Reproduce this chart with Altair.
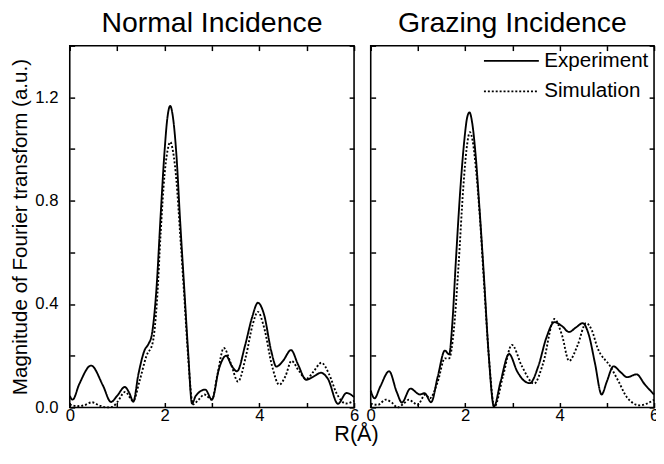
import altair as alt
import pandas as pd

FONT = "Liberation Sans, Arial, sans-serif"

panels = ["Normal Incidence", "Grazing Incidence"]
series = ["Experiment", "Simulation"]

# Normal incidence - experiment
ni_exp_r = [0.0, 0.06, 0.2, 0.45, 0.7, 0.87, 1.0, 1.16, 1.26, 1.34, 1.45, 1.58, 1.66, 1.73, 1.83, 1.92,
            2.0, 2.06, 2.12, 2.18, 2.25, 2.33, 2.42, 2.5, 2.58, 2.66, 2.86, 3.0, 3.15, 3.3, 3.42, 3.53,
            3.7, 3.85, 3.97, 4.1, 4.25, 4.36, 4.5, 4.67, 4.82, 4.99, 5.15, 5.3, 5.45, 5.66, 5.84, 6.0]
ni_exp_v = [0.045, 0.03, 0.09, 0.162, 0.085, 0.021, 0.045, 0.079, 0.055, 0.022, 0.13, 0.222, 0.245, 0.28, 0.46, 0.75,
            0.99, 1.12, 1.167, 1.12, 0.98, 0.72, 0.45, 0.21, 0.015, 0.045, 0.069, 0.03, 0.15, 0.2, 0.16, 0.14,
            0.24, 0.35, 0.405, 0.36, 0.22, 0.158, 0.18, 0.222, 0.165, 0.107, 0.12, 0.134, 0.11, 0.014, 0.056, 0.04]

# Normal incidence - simulation
ni_sim_r = [0.0, 0.15, 0.3, 0.47, 0.62, 0.77, 0.9, 1.0, 1.17, 1.34, 1.47, 1.62, 1.75, 1.84, 1.92,
            2.0, 2.06, 2.12, 2.18, 2.25, 2.33, 2.42, 2.5, 2.6, 2.72, 2.84, 3.0, 3.12, 3.25, 3.4, 3.55,
            3.72, 3.86, 3.97, 4.1, 4.27, 4.42, 4.55, 4.68, 4.84, 4.99, 5.15, 5.31, 5.47, 5.63, 5.83, 6.0]
ni_sim_v = [0.012, 0.005, 0.008, 0.02, 0.008, 0.0, 0.002, 0.02, 0.06, 0.025, 0.1, 0.2, 0.25, 0.41, 0.68,
            0.9, 0.99, 1.027, 0.99, 0.88, 0.67, 0.42, 0.19, 0.012, 0.03, 0.05, 0.03, 0.13, 0.23, 0.17, 0.1,
            0.2, 0.32, 0.37, 0.31, 0.16, 0.088, 0.12, 0.18, 0.14, 0.11, 0.14, 0.173, 0.13, 0.055, 0.015, 0.025]

# Grazing incidence - experiment
gi_exp_r = [0.0, 0.08, 0.2, 0.39, 0.55, 0.66, 0.84, 1.04, 1.14, 1.28, 1.42, 1.57, 1.66, 1.73, 1.8, 1.9,
            1.98, 2.04, 2.09, 2.15, 2.22, 2.3, 2.4, 2.5, 2.61, 2.75, 2.93, 3.1, 3.25, 3.37, 3.55, 3.72,
            3.89, 4.05, 4.2, 4.35, 4.49, 4.62, 4.75, 4.89, 5.0, 5.14, 5.3, 5.43, 5.63, 5.8, 6.0]
gi_exp_v = [0.065, 0.035, 0.08, 0.14, 0.06, 0.019, 0.073, 0.05, 0.055, 0.02, 0.12, 0.22, 0.205, 0.33, 0.557, 0.85,
            1.03, 1.12, 1.142, 1.1, 0.98, 0.78, 0.5, 0.2, 0.003, 0.1, 0.207, 0.14, 0.103, 0.094, 0.16, 0.27,
            0.33, 0.315, 0.292, 0.31, 0.326, 0.28, 0.17, 0.05, 0.1, 0.159, 0.135, 0.117, 0.128, 0.09, 0.05]

# Grazing incidence - simulation
gi_sim_r = [0.0, 0.15, 0.32, 0.45, 0.57, 0.7, 0.81, 0.9, 0.99, 1.16, 1.25, 1.42, 1.57, 1.66, 1.76, 1.86,
            1.96, 2.03, 2.1, 2.16, 2.23, 2.31, 2.4, 2.5, 2.62, 2.8, 2.99, 3.2, 3.46, 3.65, 3.89, 4.05,
            4.2, 4.38, 4.56, 4.68, 4.8, 5.08, 5.25, 5.43, 5.7, 5.85, 6.0]
gi_sim_v = [0.015, 0.01, 0.03, 0.018, 0.0, 0.015, 0.03, 0.02, 0.01, 0.05, 0.035, 0.1, 0.19, 0.19, 0.3, 0.55,
            0.85, 1.0, 1.065, 1.03, 0.92, 0.74, 0.48, 0.2, 0.003, 0.12, 0.242, 0.16, 0.092, 0.17, 0.342, 0.28,
            0.18, 0.24, 0.326, 0.3, 0.232, 0.157, 0.1, 0.038, 0.008, 0.015, 0.03]

def make_df(panel, exp_r, exp_v, sim_r, sim_v):
    rows = []
    for r, v in zip(exp_r, exp_v):
        rows.append({"panel": panel, "series": series[0], "R": r, "M": v})
    for r, v in zip(sim_r, sim_v):
        rows.append({"panel": panel, "series": series[1], "R": r, "M": v})
    return pd.DataFrame(rows)

df_ni = make_df(panels[0], ni_exp_r, ni_exp_v, ni_sim_r, ni_sim_v)
df_gi = make_df(panels[1], gi_exp_r, gi_exp_v, gi_sim_r, gi_sim_v)

x_ticks = [0, 1, 2, 3, 4, 5, 6]
y_ticks = [0.0, 0.2, 0.4, 0.6, 0.8, 1.0, 1.2, 1.4]

H = 369
TS = 5
TICK = dict(tickSize=TS, offset=-TS, domain=False, grid=False, tickColor="black",
            tickWidth=1.5, minExtent=0)

def panel_chart(df, title, left_panel, width):
    xscale = alt.Scale(domain=[0, 6], nice=False, zero=False)
    yscale = alt.Scale(domain=[0, 1.4], nice=False)
    xaxis_kw = dict(values=x_ticks, labelExpr="datum.value % 2 == 0 ? datum.label : ''",
                    labelPadding=0, labelFont=FONT, labelFontSize=17,
                    labelColor="black", labelAngle=0, labelFlush=False, **TICK)
    if left_panel:
        xaxis = alt.Axis(title="R(Å)", titleX=width + 2, titleY=39, titleAlign="center",
                         titleBaseline="alphabetic", titleFont=FONT, titleFontSize=22,
                         titleFontWeight="normal", titleColor="black", **xaxis_kw)
        yaxis = alt.Axis(title="Magnitude of Fourier transform (a.u.)", values=y_ticks,
                         labelExpr="round(datum.value*10) % 4 == 0 ? format(datum.value, '.1f') : ''",
                         labelPadding=12, labelFont=FONT, labelFontSize=17,
                         labelColor="black", titleFont=FONT, titleFontSize=21,
                         titleFontWeight="normal", titleColor="black", titlePadding=4, **TICK)
    else:
        xaxis = alt.Axis(title=None, **xaxis_kw)
        yaxis = alt.Axis(title=None, values=y_ticks, labels=False, **TICK)

    if left_panel:
        dash_legend = None
    else:
        dash_legend = alt.Legend(title=None, orient="top-right", offset=5, padding=0,
                                 symbolType="M-4,0H4", symbolSize=196, symbolStrokeWidth=1.8,
                                 symbolStrokeColor="black", labelFont=FONT, labelFontSize=21,
                                 labelColor="black", labelOffset=23, rowPadding=9)

    lines = alt.Chart(df).mark_line(color="black", strokeWidth=1.9, interpolate="monotone").encode(
        x=alt.X("R:Q", scale=xscale, axis=xaxis),
        y=alt.Y("M:Q", scale=yscale, axis=yaxis),
        strokeDash=alt.StrokeDash("series:N",
                                  scale=alt.Scale(domain=series, range=[[1, 0], [2, 2]]),
                                  legend=dash_legend),
    )
    mirror = alt.Chart(df).mark_line(opacity=0).encode(
        x=alt.X("R:Q", scale=xscale,
                axis=alt.Axis(orient="top", title=None, values=x_ticks, labels=False, **TICK)),
        y=alt.Y("M:Q", scale=yscale,
                axis=alt.Axis(orient="right", title=None, values=y_ticks, labels=False, **TICK)),
        detail="series:N",
    )
    return alt.layer(lines, mirror).resolve_axis(x="independent", y="independent").properties(
        width=width, height=H,
        title=alt.TitleParams(title, font=FONT, fontSize=29, fontWeight="normal", color="black",
                              anchor="middle", offset=7),
    )

left = panel_chart(df_ni, panels[0], True, 290)
right = panel_chart(df_gi, panels[1], False, 289)

chart = alt.hconcat(left, right, spacing=17, bounds="flush").resolve_scale(
    strokeDash="independent"
).properties(padding={"left": 1, "top": -4, "right": -4, "bottom": 0}).configure_view(
    stroke="black", strokeWidth=1.6
)

chart.save("out.html", embed_options={"renderer": "svg", "actions": False})
